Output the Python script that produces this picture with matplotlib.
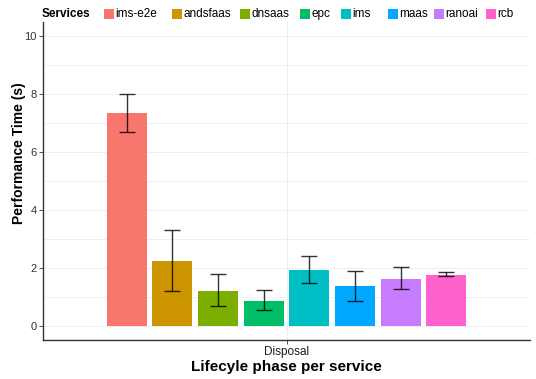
import numpy as np
import matplotlib.pyplot as plt
from matplotlib.patches import Rectangle

plt.rcParams['font.family'] = ['Liberation Sans', 'DejaVu Sans']

services = ["ims-e2e", "andsfaas", "dnsaas", "epc", "ims", "maas", "ranoai", "rcb"]
mean_time = [7.34, 2.24, 1.21, 0.86, 1.93, 1.38, 1.62, 1.76]
err_low = [6.69, 1.18, 0.66, 0.54, 1.48, 0.86, 1.25, 1.71]
err_high = [8.02, 3.30, 1.77, 1.22, 2.40, 1.90, 2.01, 1.85]
colors = ["#F8766D", "#CD9600", "#7CAE00", "#00BE67",
          "#00BFC4", "#00A9FF", "#C77CFF", "#FF61CC"]
phase = "Disposal"

W, H = 536, 379
fig = plt.figure(figsize=(W / 100, H / 100), dpi=100)
ax = fig.add_axes([43 / W, 1 - 340 / H, 487 / W, 318 / H])

# dodge bars around the single category at x=1
n = len(services)
slot = 0.9 / n
xs = 1 - 0.45 + slot / 2 + slot * np.arange(n)
mean_time = np.array(mean_time)
yerr = np.array([mean_time - np.array(err_low), np.array(err_high) - mean_time])

ax.bar(xs, mean_time, width=slot * 0.875, color=colors, zorder=2)
ax.errorbar(xs, mean_time, yerr=yerr, fmt="none", ecolor="black", alpha=0.8,
            elinewidth=1.0, capsize=6, capthick=1.0, zorder=3)

ax.set_xlim(0.4, 1.6)
ax.set_ylim(-0.5, 10.5)
ax.set_xticks([1])
ax.set_xticklabels([phase])
ax.set_yticks(range(0, 11, 2))
ax.set_yticks(range(1, 11, 2), minor=True)

ax.grid(True, which="both", axis="y", color="#ededed", lw=0.6, zorder=0)
ax.grid(True, which="major", axis="x", color="#ededed", lw=0.6, zorder=0)
for s in ["top", "right"]:
    ax.spines[s].set_visible(False)
for s in ["left", "bottom"]:
    ax.spines[s].set_color("#333333")
    ax.spines[s].set_linewidth(1.0)
ax.tick_params(axis="both", which="major", labelsize=8, colors="#333333",
               length=3, width=0.6, pad=1.5, labelcolor="#333333")
ax.tick_params(axis="x", labelsize=8.5, labelcolor="#1a1a1a")
ax.tick_params(axis="y", which="minor", length=0)

ax.set_ylabel("Performance Time (s)", fontsize=10, fontweight="bold")
ax.yaxis.set_label_coords(-0.035, 0.588)
ax.set_xlabel("Lifecyle phase per service", fontsize=11, fontweight="bold", labelpad=1)

# legend row along the top
ly = 1 - 14 / H
fig.text(42 / W, ly, "Services", fontsize=8.5, fontweight="bold", va="center", ha="left")
key_x = [104, 172, 240, 300, 341, 388, 434, 486]
for kx, name, c in zip(key_x, services, colors):
    fig.add_artist(Rectangle((kx / W, ly - 5 / H), 10 / W, 10 / H,
                             transform=fig.transFigure, facecolor=c, edgecolor="none"))
    fig.text((kx + 11.5) / W, ly, name, fontsize=8.5, va="center", ha="left")

fig.savefig("out.png", dpi=100)
